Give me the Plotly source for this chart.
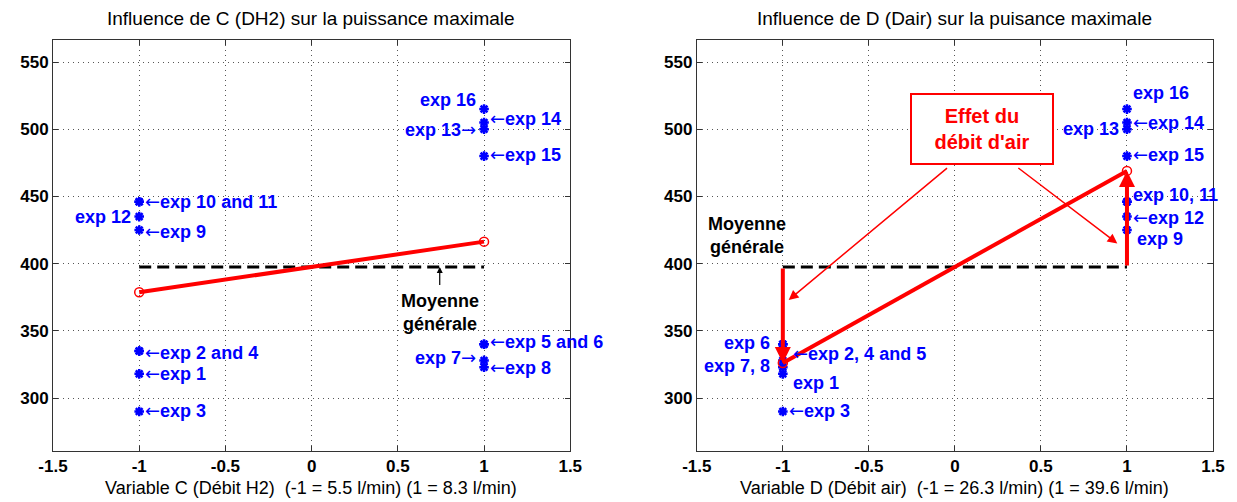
import numpy as np
import plotly.graph_objects as go

# ---------------- data ----------------
exp_ids = list(range(1, 17))
puissance = [318, 335, 290, 335, 340, 340, 328, 323,
             425, 446, 446, 435, 500, 505, 480, 515]
level_C = [-1, -1, -1, -1, 1, 1, 1, 1, -1, -1, -1, -1, 1, 1, 1, 1]
level_D = [-1, -1, -1, -1, -1, -1, -1, -1, 1, 1, 1, 1, 1, 1, 1, 1]

x_ticks = [-1.5, -1, -0.5, 0, 0.5, 1, 1.5]
y_ticks = [300, 350, 400, 450, 500, 550]

title_C = "Influence de C (DH2) sur la puissance maximale"
title_D = "Influence de D (Dair) sur la puisance maximale"
xlabel_C = "Variable C (Débit H2)  (-1 = 5.5 l/min) (1 = 8.3 l/min)"
xlabel_D = "Variable D (Débit air)  (-1 = 26.3 l/min) (1 = 39.6 l/min)"

# label text, level, y position, side
labels_C = [
    ("exp 16", 1, 522, "r"), ("←exp 14", 1, 508, "l"), ("exp 13→", 1, 500, "r"),
    ("←exp 15", 1, 481, "l"), ("←exp 10 and 11", -1, 446, "l"), ("exp 12", -1, 435, "r"),
    ("←exp 9", -1, 424, "l"), ("←exp 2 and 4", -1, 334, "l"), ("←exp 1", -1, 318, "l"),
    ("←exp 3", -1, 291, "l"), ("←exp 5 and 6", 1, 342, "l"), ("exp 7→", 1, 330, "r"),
    ("←exp 8", 1, 323, "l"),
]
labels_D = [
    ("exp 16", 1, 527, "l"), ("←exp 14", 1, 505, "l"), ("exp 13", 1, 500, "r"),
    ("←exp 15", 1, 481, "l"), ("exp 10, 11", 1, 451, "l"), ("←exp 12", 1, 434, "l"),
    ("exp 9", 1, 418, "l2"), ("exp 6", -1, 341, "r2"), ("←exp 2, 4 and 5", -1, 333, "l2"),
    ("exp 7, 8", -1, 324, "r2"), ("exp 1", -1, 311, "l2"), ("←exp 3", -1, 291, "l"),
]

# ---------------- derived ----------------
p = np.array(puissance, dtype=float)
lc = np.array(level_C)
ld = np.array(level_D)
mean_all = p.mean()
mC = [p[lc == -1].mean(), p[lc == 1].mean()]
mD = [p[ld == -1].mean(), p[ld == 1].mean()]

FONT = "Liberation Sans, Arial, sans-serif"
BLUE = "#0000ff"
RED = "#ff0000"
ARROW_SPAN = "<span style=\"font-family:'DejaVu Sans';font-weight:normal\">{}</span>"

fig = go.Figure()

def add_panel(levels, means, xa, ya):
    fig.add_trace(go.Scatter(
        x=levels, y=puissance, mode="markers", xaxis=xa, yaxis=ya,
        marker=dict(symbol="asterisk-open", size=8, color=BLUE,
                    line=dict(color=BLUE, width=2.5)),
        showlegend=False, hoverinfo="skip"))
    fig.add_trace(go.Scatter(
        x=[-1, 1], y=[mean_all, mean_all], mode="lines", xaxis=xa, yaxis=ya,
        line=dict(color="black", width=3, dash="12px,6px"),
        showlegend=False, hoverinfo="skip"))
    fig.add_trace(go.Scatter(
        x=[-1, 1], y=means, mode="lines+markers", xaxis=xa, yaxis=ya,
        line=dict(color=RED, width=4),
        marker=dict(symbol="circle-open", size=9, color=RED,
                    line=dict(color=RED, width=1.5)),
        showlegend=False, hoverinfo="skip"))

add_panel(level_C, mC, "x", "y")
add_panel(level_D, mD, "x2", "y2")

annotations = []

def fmt_label(txt):
    for a in ("←", "→"):
        txt = txt.replace(a, ARROW_SPAN.format(a))
    return txt

def add_labels(labels, xr, yr):
    for txt, lev, yv, side in labels:
        if side == "r":
            xanchor, xshift = "right", -6
        elif side == "r2":
            xanchor, xshift = "right", -11
        elif side == "l2":
            xanchor, xshift = "left", 8
        else:
            xanchor, xshift = "left", 4
        annotations.append(dict(
            x=lev, y=yv, xref=xr, yref=yr, text=fmt_label(txt), showarrow=False,
            xanchor=xanchor, yanchor="middle", xshift=xshift,
            font=dict(family=FONT, size=18, color=BLUE, weight="bold")))

add_labels(labels_C, "x", "y")
add_labels(labels_D, "x2", "y2")

# Moyenne générale (left)
annotations.append(dict(
    x=0.743, y=mean_all, xref="x", yref="y", ax=0.743, ay=383,
    axref="x", ayref="y", text="", showarrow=True, arrowhead=2,
    arrowsize=1, arrowwidth=1.2, arrowcolor="black"))
annotations.append(dict(
    x=0.743, y=364, xref="x", yref="y", text="Moyenne<br>générale",
    showarrow=False, xanchor="center", yanchor="middle",
    font=dict(family=FONT, size=18, color="black", weight="bold")))
# Moyenne générale (right)
annotations.append(dict(
    x=-1.21, y=421, xref="x2", yref="y2", text="Moyenne<br>générale",
    showarrow=False, xanchor="center", yanchor="middle",
    font=dict(family=FONT, size=18, color="black", weight="bold")))

# Effet du débit d'air box
annotations.append(dict(
    x=0.16, y=500, xref="x2", yref="y2", text="Effet du<br>débit d'air",
    showarrow=False, xanchor="center", yanchor="middle",
    bordercolor=RED, borderwidth=2, borderpad=6, bgcolor="white",
    width=128, height=56,
    font=dict(family=FONT, size=20, color=RED, weight="bold")))

# thin red arrows from the box
for tip, tail in [((-0.966, 373), (-0.037, 472)), ((0.944, 415), (0.36, 472))]:
    annotations.append(dict(
        x=tip[0], y=tip[1], ax=tail[0], ay=tail[1], xref="x2", yref="y2",
        axref="x2", ayref="y2", text="", showarrow=True, arrowhead=2,
        arrowsize=1.3, arrowwidth=1.5, arrowcolor=RED))

# thick red arrows (effect)
for lev, mv in [(-1, mD[0]), (1, mD[1])]:
    annotations.append(dict(
        x=lev, y=mv, ax=lev, ay=mean_all, xref="x2", yref="y2",
        axref="x2", ayref="y2", text="", showarrow=True, arrowhead=2,
        arrowsize=0.8, arrowwidth=4, arrowcolor=RED))

# titles and x labels
for cx, t, xl in [(0.2228, title_C, xlabel_C), (0.7775, title_D, xlabel_D)]:
    annotations.append(dict(
        x=cx, y=1, xref="paper", yref="paper", text=t, showarrow=False,
        xanchor="center", yanchor="middle", yshift=22,
        font=dict(family=FONT, size=19, color="black")))
    annotations.append(dict(
        x=cx, y=0, xref="paper", yref="paper", text=xl, showarrow=False,
        xanchor="center", yanchor="middle", yshift=-37,
        font=dict(family=FONT, size=18, color="black")))

axis_common = dict(
    showline=True, linecolor="#333333", linewidth=1, mirror="ticks",
    ticks="inside", ticklen=5, tickcolor="#333333",
    showgrid=True, gridcolor="#555555", gridwidth=1, griddash="1px,4px",
    zeroline=False,
    tickfont=dict(family=FONT, size=17, color="black", weight="bold"),
)

# the page body adds an 8 px offset; size the figure to fit the window
fig.update_layout(
    width=1229, height=494,
    margin=dict(l=38, r=18, t=32, b=51),
    paper_bgcolor="white", plot_bgcolor="white",
    showlegend=False,
    xaxis=dict(domain=[0, 0.4459], range=[-1.5, 1.5], tickvals=x_ticks,
               ticktext=[f"{v:g}" for v in x_ticks], anchor="y", **axis_common),
    yaxis=dict(domain=[0, 1], range=[260.6, 566.4], tickvals=y_ticks,
               anchor="x", **axis_common),
    xaxis2=dict(domain=[0.555, 1], range=[-1.5, 1.5], tickvals=x_ticks,
                ticktext=[f"{v:g}" for v in x_ticks], anchor="y2", **axis_common),
    yaxis2=dict(domain=[0, 1], range=[260.6, 566.4], tickvals=y_ticks,
                anchor="x2", **axis_common),
    annotations=annotations,
)

fig.write_html("out.html")
